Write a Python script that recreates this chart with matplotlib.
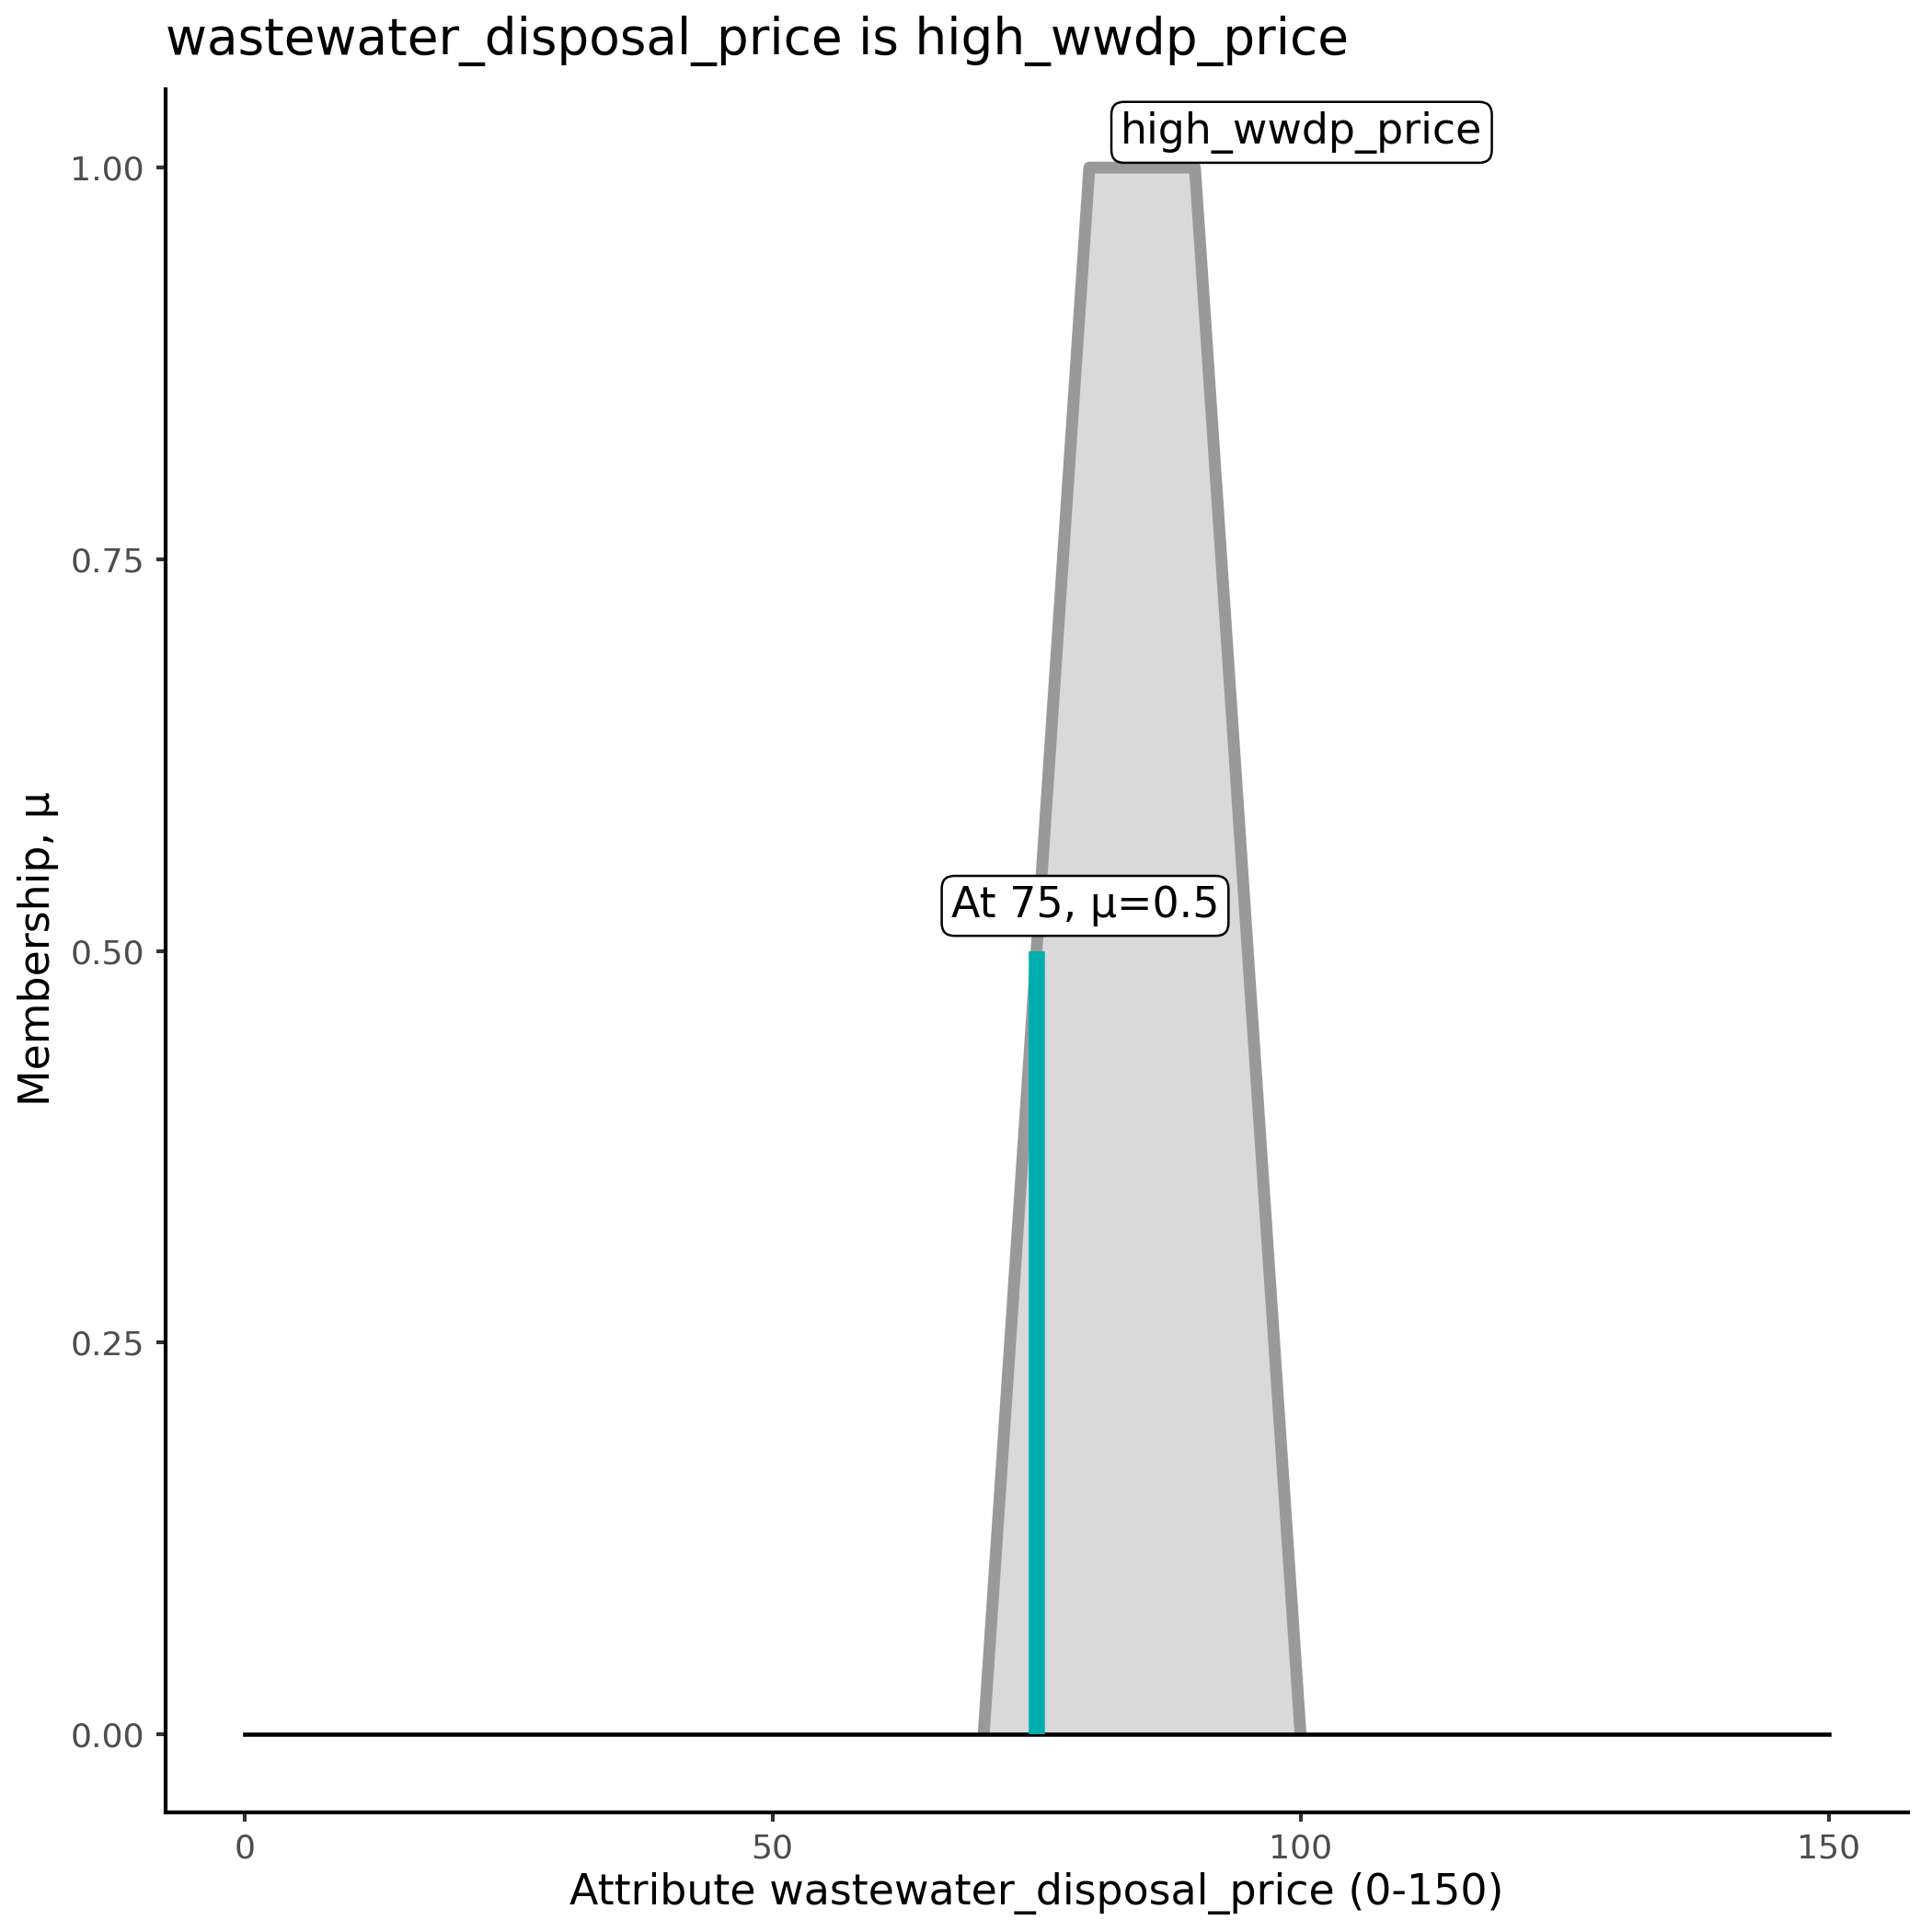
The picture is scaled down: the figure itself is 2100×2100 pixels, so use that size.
import matplotlib
matplotlib.use("Agg")
import matplotlib.pyplot as plt

# Data
set_x = [70, 80, 90, 100]
set_mu = [0, 1, 1, 0]
set_name = "high_wwdp_price"
base_x = [0, 150]
base_mu = [0, 0]
eval_x = 75
eval_mu = 0.5
x_ticks = [0, 50, 100, 150]
y_ticks = [0.00, 0.25, 0.50, 0.75, 1.00]
y_tick_labels = ["0.00", "0.25", "0.50", "0.75", "1.00"]

fig = plt.figure(figsize=(7, 7), dpi=300)
ax = fig.add_axes([0.0855, 0.0619, 0.9875 - 0.0855, 0.9538 - 0.0619])

ax.fill(set_x, set_mu, color="#D9D9D9", zorder=1, linewidth=0)
ax.plot(set_x, set_mu, color="#999999", linewidth=3.1, solid_joinstyle="round",
        solid_capstyle="butt", zorder=2)
ax.plot(base_x, base_mu, color="black", linewidth=1.1, zorder=3)
ax.plot([eval_x, eval_x], [0, eval_mu], color="#00ADAD", linewidth=4.2,
        solid_capstyle="butt", zorder=4)

bbox = dict(boxstyle="round,pad=0.22,rounding_size=0.3", facecolor="white",
            edgecolor="black", linewidth=0.6)
ax.text(100.1, 1.009, set_name, ha="center", va="bottom", fontsize=11,
        bbox=bbox, zorder=5)
ax.text(79.6, 0.5155, f"At {eval_x}, \u03bc={eval_mu}", ha="center", va="bottom",
        fontsize=11, bbox=bbox, zorder=5)

ax.set_xlim(-7.5, 157.5)
ax.set_ylim(-0.05, 1.05)
ax.set_xticks(x_ticks)
ax.set_yticks(y_ticks)
ax.set_yticklabels(y_tick_labels)
for s in ["top", "right"]:
    ax.spines[s].set_visible(False)
for s in ["left", "bottom"]:
    ax.spines[s].set_linewidth(1.0)
    ax.spines[s].set_color("black")
ax.tick_params(axis="both", length=2.4, width=1.0, color="#333333",
               labelcolor="#4D4D4D", labelsize=8.7, pad=3)

ax.set_xlabel("Attribute wastewater_disposal_price (0-150)", fontsize=11, labelpad=2)
fig.text(31 / 1568, 1 - 770 / 1568, "Membership, \u03bc", rotation=90,
         ha="center", va="center", fontsize=11)
fig.text(0.0855, 1 - 44 / 2100, "wastewater_disposal_price is high_wwdp_price",
         ha="left", va="center", fontsize=13.2)

fig.savefig("out.png", dpi=300)
